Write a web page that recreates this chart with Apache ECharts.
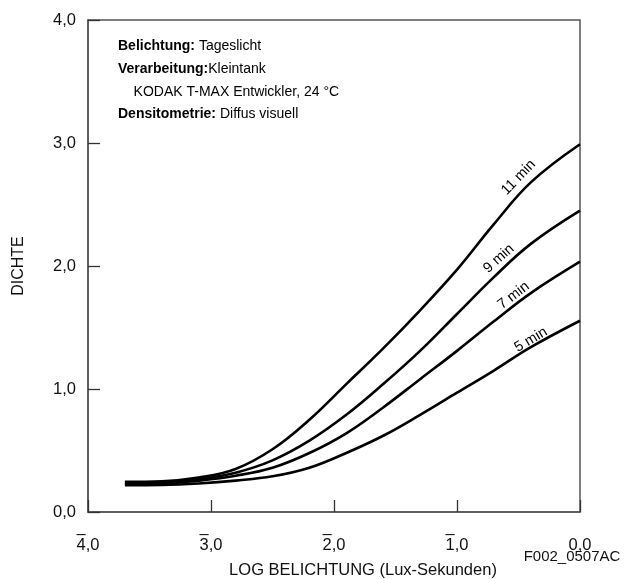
<!DOCTYPE html>
<html>
<head>
<meta charset="utf-8">
<script src="https://cdn.jsdelivr.net/npm/echarts@6/dist/echarts.min.js"></script>
<style>
  html, body { margin: 0; padding: 0; background: #fff; }
  #chart { width: 627px; height: 579px; }
</style>
</head>
<body>
<div id="chart"></div>
<script>
// Log exposure (lux-seconds), shared by all development times
const logExposure = [-3.7, -3.4, -3.1, -2.8, -2.5, -2.2, -1.9, -1.6, -1.3, -1.0, -0.7, -0.4, 0];

// Density for each development time
const density11 = [0.245, 0.25, 0.28, 0.35, 0.51, 0.75, 1.04, 1.33, 1.64, 1.97, 2.34, 2.68, 2.99];
const density9  = [0.235, 0.238, 0.268, 0.32, 0.42, 0.58, 0.79, 1.04, 1.31, 1.61, 1.91, 2.18, 2.45];
const density7  = [0.228, 0.23, 0.255, 0.295, 0.36, 0.48, 0.64, 0.85, 1.08, 1.31, 1.55, 1.78, 2.035];
const density5  = [0.218, 0.22, 0.232, 0.255, 0.29, 0.36, 0.48, 0.62, 0.79, 0.97, 1.15, 1.34, 1.555];

const curveNames = ['11 min', '9 min', '7 min', '5 min'];
const curveValues = [density11, density9, density7, density5];

// Tick labels: negative characteristics carry a bar over the digit
const xTickDigits = { '-4': '4', '-3': '3', '-2': '2', '-1': '1', '0': '0' };
const yTickLabels = { '0': '0,0', '1': '1,0', '2': '2,0', '3': '3,0', '4': '4,0' };

// Where each curve's name sits (data coords) and its slant
const curveLabelSpots = [
  { coord: [-0.5, 2.72], rotate: 46 },
  { coord: [-0.66, 2.06], rotate: 42 },
  { coord: [-0.54, 1.76], rotate: 38 },
  { coord: [-0.40, 1.40], rotate: 31 }
];

const FONT = '"Liberation Sans", Arial, sans-serif';
const TICK_FONT = 16.5;

const series = curveNames.map((name, i) => ({
  name: name,
  type: 'line',
  smooth: 0.4,
  symbol: 'none',
  lineStyle: { color: '#000', width: 2.6 },
  data: logExposure.map((x, j) => [x, curveValues[i][j]]),
  markPoint: {
    symbol: 'circle',
    symbolSize: 0,
    silent: true,
    data: [{
      coord: curveLabelSpots[i].coord,
      label: {
        show: true,
        formatter: name,
        position: 'inside',
        rotate: curveLabelSpots[i].rotate,
        color: '#000',
        fontFamily: FONT,
        fontSize: 14.5
      }
    }]
  }
}));

const chart = echarts.init(document.getElementById('chart'), null, { renderer: 'canvas' });
chart.setOption({
  backgroundColor: '#fff',
  animation: false,
  grid: {
    left: 88, right: 47, top: 20, bottom: 67,
    show: true, borderColor: '#555', borderWidth: 1.5, backgroundColor: 'transparent'
  },
  xAxis: {
    type: 'value',
    min: -4, max: 0, interval: 1,
    axisLine: { show: true, onZero: false, lineStyle: { color: '#555', width: 1.5 } },
    axisTick: { show: true, inside: true, length: 12, lineStyle: { color: '#333', width: 1.3 } },
    splitLine: { show: false },
    axisLabel: {
      margin: 20,
      color: '#111',
      fontFamily: FONT,
      fontSize: TICK_FONT,
      formatter: v => {
        const key = String(Math.round(v));
        const bar = key === '0' ? '{bar|    }' : '{bar|\u2013   }';
        return bar + '\n{n|' + xTickDigits[key] + ',0}';
      },
      rich: {
        bar: { fontFamily: FONT, fontSize: TICK_FONT, lineHeight: 4, color: '#111' },
        n: { fontFamily: FONT, fontSize: TICK_FONT, lineHeight: 18, color: '#111' }
      }
    }
  },
  yAxis: {
    type: 'value',
    min: 0, max: 4, interval: 1,
    name: 'DICHTE',
    nameLocation: 'middle',
    nameGap: 61,
    nameTextStyle: { color: '#111', fontFamily: FONT, fontSize: 16 },
    axisLine: { show: true, onZero: false, lineStyle: { color: '#555', width: 1.5 } },
    axisTick: { show: true, inside: true, length: 12, lineStyle: { color: '#333', width: 1.3 } },
    splitLine: { show: false },
    axisLabel: {
      margin: 12,
      color: '#111',
      fontFamily: FONT,
      fontSize: TICK_FONT,
      formatter: v => yTickLabels[String(Math.round(v))]
    }
  },
  graphic: [
    {
      type: 'text',
      left: 118, top: 35,
      style: {
        text: '{b|Belichtung:} Tageslicht\n{b|Verarbeitung:}Kleintank\n    KODAK T-MAX Entwickler, 24 °C\n{b|Densitometrie:} Diffus visuell',
        fontFamily: FONT,
        fontSize: 14,
        lineHeight: 22.7,
        fill: '#000',
        rich: {
          b: { fontWeight: 'bold', fontFamily: FONT, fontSize: 14, lineHeight: 22.7 }
        }
      }
    },
    {
      type: 'text',
      x: 363, y: 570,
      style: {
        text: 'LOG BELICHTUNG (Lux-Sekunden)',
        fontFamily: FONT, fontSize: 16.5, fill: '#111',
        textAlign: 'center', textVerticalAlign: 'middle'
      }
    },
    {
      type: 'text',
      x: 572, y: 557,
      style: {
        text: 'F002_0507AC',
        fontFamily: FONT, fontSize: 15, fill: '#111',
        textAlign: 'center', textVerticalAlign: 'middle'
      }
    }
  ],
  series: series
});
</script>
</body>
</html>
